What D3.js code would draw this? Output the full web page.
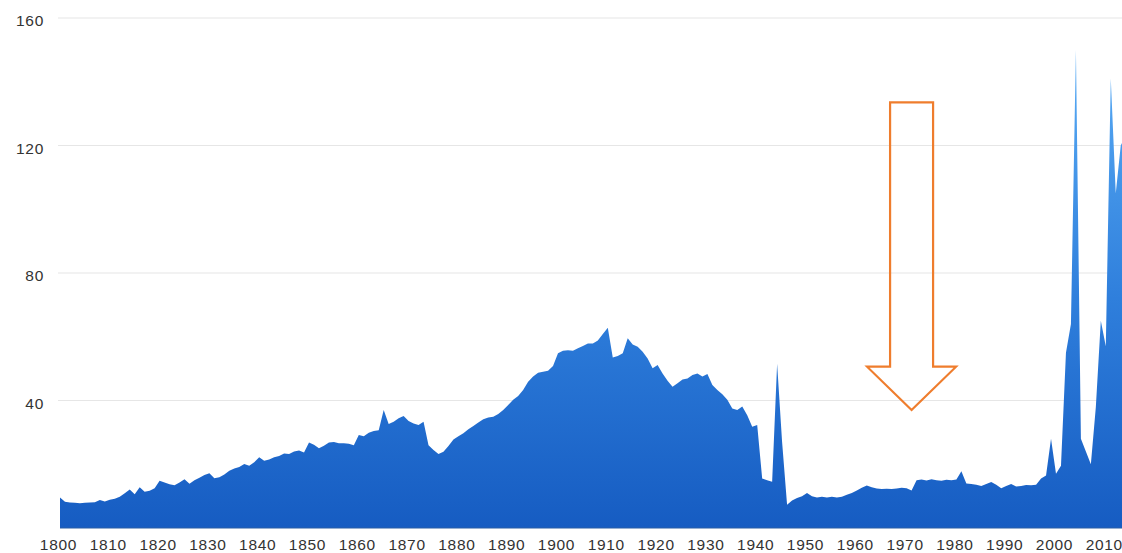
<!DOCTYPE html>
<html>
<head>
<meta charset="utf-8">
<script src="https://cdn.jsdelivr.net/npm/d3@7"></script>
<style>
  body { margin: 0; background: #fff; }
  svg { display: block; overflow: hidden; }
  .tick text { font-family: Arial, "Liberation Sans", sans-serif; font-size: 15.5px; fill: #333; letter-spacing: 0.7px; }
  .grid line { stroke: #e6e6e6; stroke-width: 1.2; }
</style>
</head>
<body>
<svg id="chart"></svg>
<script>
const years = d3.range(1800, 2015);

const values = [
  9.6, 8.2, 8.0, 7.9, 7.8, 7.9, 8.0, 8.1, 8.8, 8.3,
  8.9, 9.2, 9.8, 10.9, 12.1, 10.6, 12.8, 11.4, 11.7, 12.5,
  14.8, 14.3, 13.7, 13.4, 14.3, 15.3, 13.9, 15.0, 15.8, 16.6,
  17.2, 15.6, 15.9, 16.8, 18.0, 18.7, 19.1, 20.1, 19.5, 20.6,
  22.2, 21.1, 21.5, 22.2, 22.6, 23.4, 23.2, 24.0, 24.3, 23.7,
  26.8, 26.1, 25.0, 25.8, 26.8, 27.0, 26.6, 26.6, 26.4, 26.0,
  29.2, 28.8, 29.9, 30.4, 30.7, 37.0, 32.6, 33.3, 34.4, 35.1,
  33.6, 32.8, 32.3, 33.3, 26.0, 24.5, 23.2, 23.9, 25.7, 27.8,
  28.8, 29.7, 31.0, 32.0, 33.1, 34.1, 34.7, 34.9, 35.8, 37.0,
  38.6, 40.2, 41.4, 43.3, 45.9, 47.5, 48.7, 49.0, 49.3, 50.8,
  54.8, 55.6, 55.8, 55.6, 56.4, 57.1, 57.9, 57.9, 58.8, 60.9,
  62.8, 53.5, 54.0, 54.8, 59.5, 57.6, 56.9, 55.3, 53.2, 50.1,
  51.1, 48.5, 46.2, 44.3, 45.4, 46.6, 46.9, 48.0, 48.5, 47.5,
  48.3, 44.9, 43.3, 42.0, 40.2, 37.5, 37.0, 38.1, 35.4, 31.8,
  32.3, 15.5, 15.0, 14.5, 51.5, 27.0, 7.3, 8.6, 9.4, 10.0,
  11.0, 10.0, 9.6, 9.8, 9.6, 9.8, 9.6, 9.8, 10.4, 11.0,
  11.8, 12.6, 13.3, 12.8, 12.4, 12.2, 12.3, 12.2, 12.4, 12.6,
  12.5, 11.8, 15.0, 15.2, 14.9, 15.3, 15.0, 14.8, 15.1, 15.0,
  15.2, 17.8, 14.0, 13.8, 13.6, 13.2, 13.8, 14.4, 13.6, 12.5,
  13.2, 13.8, 13.0, 13.2, 13.5, 13.4, 13.6, 15.5, 16.5, 28.0,
  17.0, 19.5, 55.0, 64.0, 150.0, 28.0, 24.0, 20.0, 38.0, 65.0,
  57.0, 141.0, 105.0, 120.0, 123.0
];

const yTicks = [40, 80, 120, 160];
const xTicks = d3.range(1800, 2011, 10);

const margin = { top: 18, right: 0, bottom: 25, left: 60 },
  width = 1122 - margin.left - margin.right,
  height = 553 - margin.top - margin.bottom;

const data = years.map((year, i) => ({ year: year, value: values[i] }));

const svg = d3
  .select("#chart")
  .attr("width", width + margin.left + margin.right)
  .attr("height", height + margin.top + margin.bottom)
  .append("g")
  .attr("transform", "translate(" + margin.left + "," + margin.top + ")");

const x = d3.scaleLinear().domain([1800, 2014]).range([0, 214 * 4.98]);
const y = d3.scaleLinear().domain([0, 160]).range([height, 0]);

// gradient, light at the top of the plot, dark at the bottom
const grad = svg
  .append("defs")
  .append("linearGradient")
  .attr("id", "fillGrad")
  .attr("gradientUnits", "userSpaceOnUse")
  .attr("x1", 0)
  .attr("x2", 0)
  .attr("y1", y(160))
  .attr("y2", y(0));
grad.append("stop").attr("offset", "0%").attr("stop-color", "#5fb2f8");
grad.append("stop").attr("offset", "55%").attr("stop-color", "#2f7fdc");
grad.append("stop").attr("offset", "100%").attr("stop-color", "#165cc2");

// grid
svg
  .append("g")
  .attr("class", "grid")
  .selectAll("line")
  .data(yTicks)
  .enter()
  .append("line")
  .attr("x1", -2)
  .attr("x2", width)
  .attr("y1", (d) => y(d))
  .attr("y2", (d) => y(d));

const area = d3
  .area()
  .x((d) => x(d.year))
  .y0(y(0))
  .y1((d) => y(d.value));

svg.append("path").datum(data).attr("fill", "url(#fillGrad)").attr("d", area);

svg
  .append("line")
  .attr("x1", 0)
  .attr("x2", width)
  .attr("y1", y(0))
  .attr("y2", y(0))
  .attr("stroke", "#2a5ea6")
  .attr("stroke-width", 1.2);

const xAxis = svg
  .append("g")
  .attr("transform", "translate(0," + height + ")")
  .call(d3.axisBottom(x).tickValues(xTicks).tickSize(0).tickPadding(11).tickFormat(d3.format("d")));
xAxis.select(".domain").remove();
xAxis.selectAll(".tick text").attr("dx", -2);

const yAxis = svg
  .append("g")
  .attr("transform", "translate(-16,0)")
  .call(d3.axisLeft(y).tickValues(yTicks).tickSize(0).tickPadding(0));
yAxis.select(".domain").remove();
yAxis.selectAll(".tick text").attr("dy", "0.5em");

// orange hollow arrow annotation
const ax = x(1971),
  tipY = y(37),
  topY = y(133.5),
  wingY = y(50.6),
  shaftHalf = 21.5,
  wingHalf = 44.5;

svg
  .append("path")
  .attr(
    "d",
    "M" + (ax - shaftHalf) + "," + topY +
    "L" + (ax + shaftHalf) + "," + topY +
    "L" + (ax + shaftHalf) + "," + wingY +
    "L" + (ax + wingHalf) + "," + wingY +
    "L" + ax + "," + tipY +
    "L" + (ax - wingHalf) + "," + wingY +
    "L" + (ax - shaftHalf) + "," + wingY + "Z"
  )
  .attr("fill", "none")
  .attr("stroke", "#ef7d2d")
  .attr("stroke-width", 2.2)
  .attr("stroke-linejoin", "miter");
</script>
</body>
</html>
